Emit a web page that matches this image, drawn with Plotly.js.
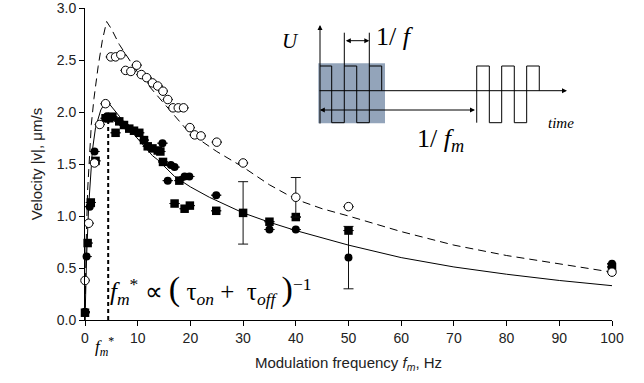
<!DOCTYPE html>
<html>
<head>
<meta charset="utf-8">
<script src="https://cdn.plot.ly/plotly-3.0.1.min.js"></script>
<style>html,body{margin:0;padding:0;background:#fff;}#chart{width:644px;height:383px;}</style>
</head>
<body>
<div id="chart"></div>
<script>
// ---- data ----
const openX = [0, 0.7, 1.8, 2.8, 3.9, 4.9, 5.8, 6.8, 7.7, 8.7, 9.8, 10.7, 11.7, 12.8, 13.8, 14.8, 15.7, 16.7, 17.7, 18.7, 19.9, 20.8, 22.0, 25.0, 30, 40, 50, 100];
const openV = [0.38, 0.93, 1.51, 1.88, 2.08, 2.53, 2.53, 2.55, 2.40, 2.39, 2.45, 2.36, 2.33, 2.28, 2.25, 2.20, 2.12, 2.04, 2.04, 2.04, 1.85, 1.78, 1.77, 1.71, 1.51, 1.18, 1.09, 0.46];
const openErr = [null, null, null, null, null, null, null, null, null, null, null, null, null, null, null, null, null, null, null, null, null, null, null, null, null, 0.19, null, null];

const dotX = [0, 0.3, 0.9, 1.8, 4.2, 14.7, 15.7, 16.3, 17.0, 18.9, 19.8, 24.9, 35, 40, 50, 100];
const dotV = [0.08, 0.61, 1.09, 1.62, 1.96, 1.70, 1.34, 1.49, 1.47, 1.38, 1.38, 1.20, 0.87, 0.87, 0.60, 0.54];
const dotErr = [null, null, null, null, null, null, null, null, null, null, null, null, null, null, 0.30, null];

const sqX = [0, 0.5, 1.1, 2.0, 3.9, 4.6, 5.2, 5.8, 6.5, 7.4, 8.4, 9.3, 10.3, 11.2, 11.9, 12.8, 13.8, 14.3, 14.8, 17.0, 17.9, 18.9, 19.9, 24.9, 30, 35, 40, 50, 100];
const sqV = [0.07, 0.74, 1.13, 1.53, 1.94, 1.94, 1.955, 1.80, 1.91, 1.875, 1.84, 1.82, 1.80, 1.73, 1.67, 1.65, 1.63, 1.62, 1.52, 1.12, 1.34, 1.07, 1.10, 1.05, 1.03, 0.945, 0.99, 0.86, 0.51];
const sqErr = [null, null, null, null, null, null, null, null, null, null, null, null, null, null, null, null, null, null, null, null, null, null, null, null, 0.30, null, null, null, null];

const dashX = [0, 0.2, 0.5, 0.8, 1.2, 1.7, 2.5, 3.3, 4.1, 5.0, 6.5, 8.7, 10.3, 13.5, 16, 19.8, 25, 30, 35, 40, 45, 50, 60, 70, 80, 90, 100];
const dashV = [0, 0.7, 1.25, 1.57, 1.88, 2.13, 2.44, 2.69, 2.87, 2.80, 2.65, 2.48, 2.36, 2.17, 2.02, 1.80, 1.62, 1.47, 1.30, 1.16, 1.07, 1.00, 0.85, 0.72, 0.62, 0.54, 0.46];

const solidX = [0, 0.3, 0.7, 1.0, 1.4, 2.0, 3.0, 4.1, 5.0, 6.5, 8.5, 10.6, 12.8, 13.8, 17, 20, 23.6, 30, 35, 40, 50, 60, 70, 80, 90, 100];
const solidV = [0, 0.6, 1.1, 1.35, 1.63, 1.85, 2.02, 2.11, 2.05, 1.96, 1.83, 1.71, 1.58, 1.54, 1.38, 1.28, 1.18, 1.03, 0.94, 0.86, 0.72, 0.60, 0.51, 0.44, 0.38, 0.33];

const fmStar = [4.4, 4.4];
const fmStarV = [0, 1.94];

const xTicks = [0, 10, 20, 30, 40, 50, 60, 70, 80, 90, 100];
const xTickText = ['0', '10', '20', '30', '40', '50', '60', '70', '80', '90', '100'];
const yTicks = [0, 0.5, 1, 1.5, 2, 2.5, 3];
const yTickText = ['0.0', '0.5', '1.0', '1.5', '2.0', '2.5', '3.0'];

// ---- layout helpers (pixel -> paper) ----
const L = 85, R = 612, T = 8, B = 320;
const px = x => (x - L) / (R - L);
const py = y => (B - y) / (B - T);
function path(pts) {
  return pts.map((p, i) => (i ? 'L' : 'M') + px(p[0]).toFixed(4) + ',' + py(p[1]).toFixed(4)).join(' ');
}
const hi = 66, lo = 122.7, base = 90.7;

const traces = [
  {x: dashX, y: dashV, mode: 'lines', line: {color: '#000', width: 1, dash: '8px,5px'}, hoverinfo: 'skip'},
  {x: solidX, y: solidV, mode: 'lines', line: {color: '#000', width: 1}, hoverinfo: 'skip'},
  {x: fmStar, y: fmStarV, mode: 'lines', line: {color: '#000', width: 2, dash: '4px,3px'}, hoverinfo: 'skip'},
  {x: dotX, y: dotV, mode: 'markers', cliponaxis: false,
   marker: {symbol: 'circle', size: 8, color: '#000'},
   error_y: {type: 'data', array: dotErr, visible: true, color: '#111', thickness: 1, width: 5}},
  {x: sqX, y: sqV, mode: 'markers', cliponaxis: false,
   marker: {symbol: 'square', size: 8.5, color: '#000'},
   error_y: {type: 'data', array: sqErr, visible: true, color: '#111', thickness: 1, width: 5}},
  {x: openX, y: openV, mode: 'markers', cliponaxis: false,
   marker: {symbol: 'circle', size: 8.5, color: '#fff', line: {color: '#000', width: 1}},
   error_y: {type: 'data', array: openErr, visible: true, color: '#111', thickness: 1, width: 5}}
];

const serif = 'Liberation Serif';
const sp = '\u00A0';
const shapes = [
  {type: 'rect', xref: 'paper', yref: 'paper', x0: px(318.3), x1: px(385), y0: py(123.3), y1: py(63.3),
   fillcolor: '#93a4ba', line: {width: 0}},
  {type: 'path', xref: 'paper', yref: 'paper', line: {color: '#000', width: 1},
   path: path([[320, hi], [331.7, hi], [331.7, lo], [344.3, lo], [344.3, hi], [356.7, hi], [356.7, lo], [369.3, lo], [369.3, hi], [381.7, hi], [381.7, base]])},
  {type: 'path', xref: 'paper', yref: 'paper', line: {color: '#000', width: 1},
   path: path([[476.7, lo], [476.7, hi], [489.3, hi], [489.3, lo], [501.7, lo], [501.7, hi], [514.3, hi], [514.3, lo], [526.7, lo], [526.7, hi], [539.3, hi], [539.3, base]])},
  {type: 'line', xref: 'paper', yref: 'paper', x0: px(344.3), x1: px(344.3), y0: py(32.7), y1: py(hi), line: {color: '#000', width: 1}},
  {type: 'line', xref: 'paper', yref: 'paper', x0: px(369.3), x1: px(369.3), y0: py(32.7), y1: py(hi), line: {color: '#000', width: 1}}
];

function arrow(x1, y1, x0, y0, both) {
  return {xref: 'paper', yref: 'paper', x: px(x1), y: py(y1), ax: x0 - x1, ay: y0 - y1,
    axref: 'pixel', ayref: 'pixel', text: '', showarrow: true, arrowhead: 2, startarrowhead: 2,
    arrowsize: 1, startarrowsize: 1, arrowwidth: 1, arrowcolor: '#000',
    arrowside: both ? 'end+start' : 'end', standoff: 0, startstandoff: 0};
}
function label(x, y, text, size) {
  return {xref: 'paper', yref: 'paper', x: px(x), y: py(y), xanchor: 'center', yanchor: 'middle',
    text: text, showarrow: false, font: {family: serif, size: size, color: '#000'}};
}
const annotations = [
  arrow(320, 25, 320, 125, false),
  arrow(567, base, 318, base, false),
  arrow(369.3, 40.7, 344.3, 40.7, true),
  arrow(475, 110, 318.3, 110, true),
  label(290, 41, '<i>U</i>', 21),
  label(395, 36, '1/' + sp + '<i>f</i>', 26),
  label(440, 140, '1/' + sp + '<i>f</i><sub><i>m</i></sub>', 26),
  label(561, 123, '<i>time</i>', 15),
  label(211, 289, '<i>f</i><sub><i>m</i></sub><sup>*</sup>' + sp + '∝' + sp + '<span style="font-size:34px">(</span>' + sp +
    'τ<sub><i>on</i></sub>' + sp + '+' + sp + sp + 'τ<sub><i>off</i></sub>' + sp + '<span style="font-size:34px">)</span><sup>−1</sup>', 25),
  label(104, 346, '<i>f</i><sub><i>m</i></sub><sup>*</sup>', 17)
];

const layout = {
  width: 644, height: 383,
  margin: {l: L, r: 644 - R, t: T, b: 383 - B},
  paper_bgcolor: '#fff', plot_bgcolor: '#fff',
  showlegend: false,
  font: {family: 'Liberation Sans', size: 14, color: '#222'},
  xaxis: {range: [0, 100], tickvals: xTicks, ticktext: xTickText, showline: true, linecolor: '#000', linewidth: 1,
    ticks: 'outside', ticklen: 5, tickcolor: '#000', showgrid: false, zeroline: false,
    tickfont: {family: 'Liberation Sans', size: 14, color: '#222'},
    title: {text: 'Modulation frequency <i>f<sub>m</sub></i>, Hz', font: {family: 'Liberation Sans', size: 15, color: '#222'}, standoff: 12}},
  yaxis: {range: [0, 3], tickvals: yTicks, ticktext: yTickText, showline: true, linecolor: '#000', linewidth: 1,
    ticks: 'outside', ticklen: 5, tickcolor: '#000', showgrid: false, zeroline: false,
    ticklabeloverflow: 'allow',
    tickfont: {family: 'Liberation Sans', size: 14, color: '#222'},
    title: {text: 'Velocity |v|, μm/s', font: {family: 'Liberation Sans', size: 15, color: '#222'}, standoff: 10}},
  shapes: shapes,
  annotations: annotations
};

Plotly.newPlot('chart', traces, layout, {displayModeBar: false, staticPlot: true});
</script>
</body>
</html>
